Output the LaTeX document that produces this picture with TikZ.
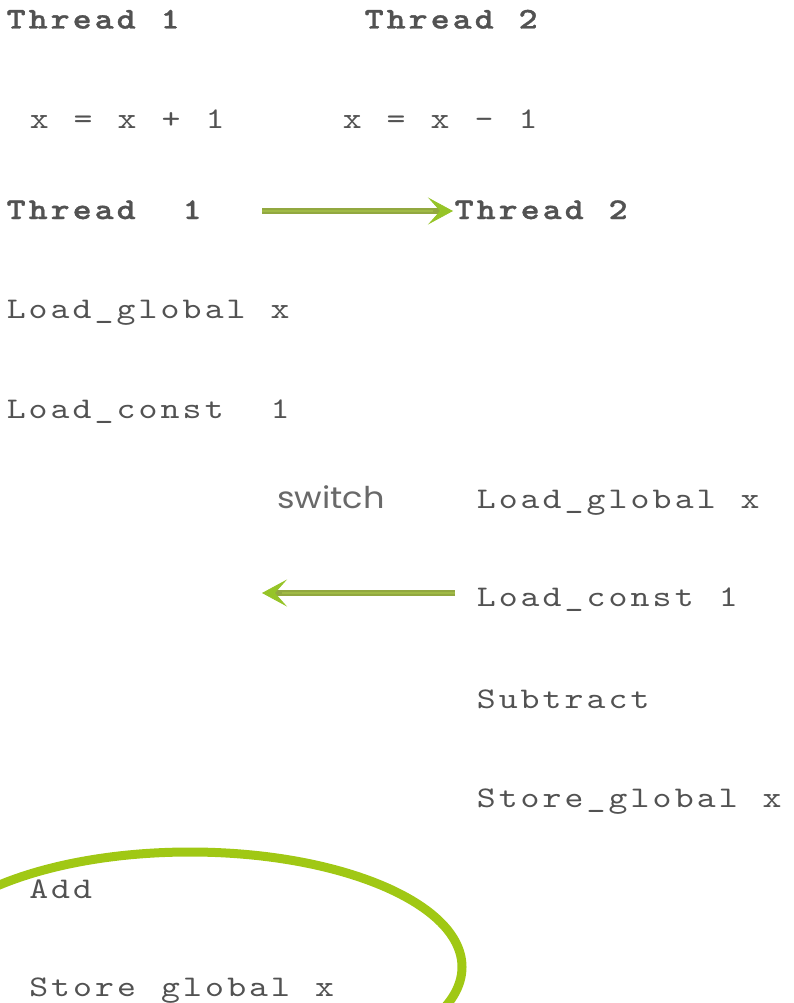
\documentclass[tikz,border=0pt]{standalone}
\usepackage{fontspec}
\usetikzlibrary{arrows.meta}

% typewriter face for the code listings, widened to a Courier-like pitch
\newfontfamily\codefont{lmmono10-regular.otf}[
  BoldFont=lmmonolt10-bold.otf,
  FakeStretch=1.2,
  BoldFeatures={FakeBold=1.2}]
\newfontfamily\swfont{Poppins}[FakeStretch=1.12]

\definecolor{ink}{RGB}{82,82,82}
\definecolor{swink}{RGB}{105,105,105}
\definecolor{shaft}{RGB}{146,168,64}
\definecolor{shafthi}{RGB}{160,186,70}
\definecolor{tipgreen}{RGB}{150,196,40}
\definecolor{ringgreen}{RGB}{160,200,20}

% fixed-pitch cells: every character gets a 22pt slot, "|" is an extra blank slot
\ExplSyntaxOn
\NewDocumentCommand\cells{m}{
  \str_map_inline:nn {#1}
    {
      \str_if_eq:nnTF {##1} {|}
        { \hspace*{22pt} }
        { \makebox[22pt][c]{##1} }
    }
}
\ExplSyntaxOff

\tikzset{
  code/.style={anchor=base west, inner sep=0pt, text=ink,
    font=\codefont\fontsize{30}{34}\selectfont},
  headline/.style={code, font=\codefont\bfseries\fontsize{30}{34}\selectfont},
  note/.style={anchor=base west, inner sep=0pt, text=swink,
    font=\swfont\fontsize{30}{34}\selectfont},
  flow/.style={draw=shaft, line width=6.5pt,
    -{Stealth[length=25pt, width=27pt, inset=12pt, line width=0.8pt, color=tipgreen]},
    postaction={draw=shafthi, line width=2.6pt, -, shorten >=20pt}},
  ring/.style={draw=ringgreen, line width=9pt},
}

\begin{document}
\begin{tikzpicture}[x=1pt, y=-1pt]
  \useasboundingbox (0,0) rectangle (794,1003);

  % source statements
  \node[headline] (h1) at (5,28.5)   {\cells{Thread 1}};
  \node[headline] (h2) at (363,28.5) {\cells{Thread 2}};
  \node[code]     (e1) at (28,129)   {\cells{x = x + 1}};
  \node[code]     (e2) at (341,129)  {\cells{x = x – 1}};

  % interleaved byte code
  \node[headline] (r1) at (5,219)    {\cells{Thread||1}};
  \node[headline] (r2) at (453,219)  {\cells{Thread 2}};
  \node[code]     (l1) at (5,318.5)  {\cells{Load_global x}};
  \node[code]     (l2) at (5,418)    {\cells{Load_const||1}};
  \node[note]     (sw) at (277,508)  {switch};
  \node[code]     (m1) at (475,508)  {\cells{Load_global x}};
  \node[code]     (m2) at (475,606)  {\cells{Load_const 1}};
  \node[code]     (m3) at (475,708)  {\cells{Subtract}};
  \node[code]     (m4) at (475,807)  {\cells{Store_global x}};
  \node[code]     (b1) at (27.5,898) {\cells{Add}};
  \node[code]     (b2) at (27.5,996) {\cells{Store global x}};

  % hand-over arrows
  \coordinate (a1s) at (262,211);
  \draw[flow] (a1s) -- (a1s -| r2.west);
  \coordinate (a2s) at (455,593);
  \coordinate (a2e) at (262,593);
  \draw[flow] (a2s) -- (a2e);

  % highlight round the final two steps
  \begin{scope}
    \clip (0,0) rectangle (794,1003);
    \draw[ring] (190,967) ellipse [x radius=272, y radius=115];
  \end{scope}
\end{tikzpicture}
\end{document}
